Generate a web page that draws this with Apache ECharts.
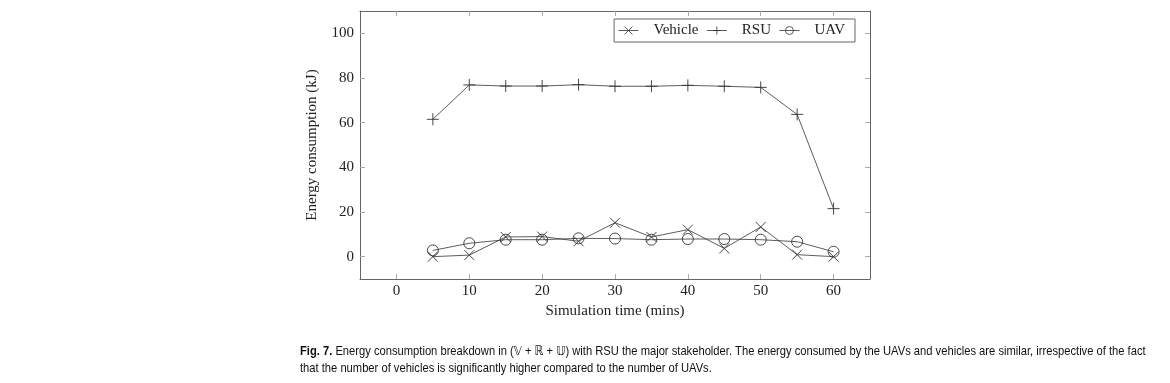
<!DOCTYPE html>
<html><head><meta charset="utf-8">
<script src="https://cdn.jsdelivr.net/npm/echarts@6/dist/echarts.min.js"></script>
<style>html,body{margin:0;padding:0;background:#fff}#c{width:1170px;height:383px}</style>
</head><body><div id="c"></div>
<script>
const times = [5,10,15,20,25,30,35,40,45,50,55,60];
const vehicle = [0,0.7,8.8,9,6.9,15.2,8.8,12.1,3.7,13.3,0.9,0];
const rsu = [61.5,76.9,76.4,76.4,77,76.3,76.3,76.7,76.3,75.8,63.7,21.5];
const uav = [2.8,6,7.6,7.6,8.2,8.1,7.6,7.9,7.9,7.6,6.7,2.2];
const xTicks = [0,10,20,30,40,50,60];
const yTicks = [0,20,40,60,80,100];
const seriesNames = ['Vehicle','RSU','UAV'];
const captionLine1 = 'Energy consumption breakdown in (𝕍 + ℝ + 𝕌) with RSU the major stakeholder. The energy consumed by the UAVs and vehicles are similar, irrespective of the fact';
const captionLine2 = 'that the number of vehicles is significantly higher compared to the number of UAVs.';

const serif = '"Liberation Serif","DejaVu Serif",serif';
const sans = '"Liberation Sans","DejaVu Sans",sans-serif';
const lineCol = '#333';
const tickCol = '#aaa';
const pair = a => times.map((t,i)=>[t,a[i]]);
const symCross = 'path://M0,0L10,10M10,0L0,10';
const symPlus = 'path://M5,0L5,10M0,5L10,5';
const mk = (name, data, symbol, size) => ({
  name, type:'line', data: pair(data), symbol, symbolSize: size,
  lineStyle:{color:lineCol, width:0.8},
  itemStyle:{color:'none', borderColor:lineCol, borderWidth:0.9},
  emphasis:{disabled:true}, animation:false, z:3
});
const baseX = {
  type:'value', min:-5, max:65,
  axisLine:{show:true, onZero:false, lineStyle:{color:'#666', width:1}},
  axisTick:{show:true, inside:true, length:5, customValues:xTicks, lineStyle:{color:tickCol}},
  splitLine:{show:false}
};
const baseY = {
  type:'value', min:-10, max:110,
  axisLine:{show:true, onZero:false, lineStyle:{color:'#666', width:1}},
  axisTick:{show:true, inside:true, length:5, customValues:yTicks, lineStyle:{color:tickCol}},
  splitLine:{show:false}
};
const chart = echarts.init(document.getElementById('c'));
chart.setOption({
  animation:false,
  grid:{left:360, right:300, top:11, bottom:104, containLabel:false},
  xAxis:[
    Object.assign({}, baseX, {position:'bottom',
      name:'Simulation time (mins)', nameLocation:'middle', nameGap:25,
      nameTextStyle:{fontFamily:serif, fontSize:15, color:'#222'},
      axisLabel:{customValues:xTicks, fontFamily:serif, fontSize:15, color:'#222', margin:5}}),
    Object.assign({}, baseX, {position:'top', axisLabel:{show:false}})
  ],
  yAxis:[
    Object.assign({}, baseY, {position:'left',
      name:'Energy consumption (kJ)', nameLocation:'middle', nameGap:40,
      nameTextStyle:{fontFamily:serif, fontSize:15, color:'#222'},
      axisLabel:{customValues:yTicks, fontFamily:serif, fontSize:15, color:'#222', margin:6}}),
    Object.assign({}, baseY, {position:'right', axisLabel:{show:false}})
  ],
  legend:{
    data:seriesNames, right:315, top:19, orient:'horizontal',
    itemWidth:20, itemHeight:10, itemGap:8,
    padding:[4,10,4,4], borderColor:'#666', borderWidth:1, borderRadius:0,
    textStyle:{fontFamily:serif, fontSize:15, color:'#222', padding:[0,0,0,10]},
    lineStyle:{width:0.8, color:lineCol},
    itemStyle:{color:'none', borderColor:lineCol, borderWidth:0.8},
    backgroundColor:'#fff'
  },
  series:[
    mk(seriesNames[0], vehicle, symCross, 10),
    mk(seriesNames[1], rsu, symPlus, 12),
    mk(seriesNames[2], uav, 'circle', 11)
  ],
  graphic:[
    {type:'text', x:300, y:345, scaleX:0.86, style:{
      text:'{b|Fig. 7.} '+captionLine1,
      rich:{b:{fontWeight:'bold', fontFamily:sans, fontSize:13, fill:'#111'}},
      fontFamily:sans, fontSize:13, fill:'#111'}},
    {type:'text', x:300, y:362, scaleX:0.86, style:{
      text:captionLine2,
      fontFamily:sans, fontSize:13, fill:'#111'}}
  ]
});
</script></body></html>
